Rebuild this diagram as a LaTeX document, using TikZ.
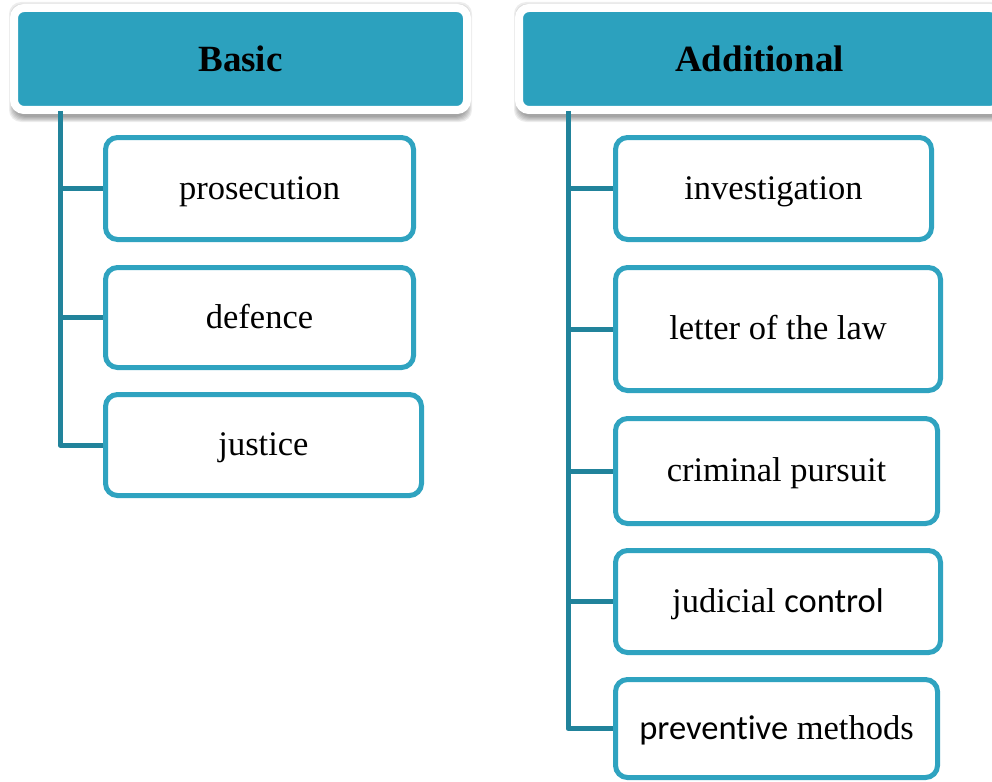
\documentclass[tikz,border=0pt]{standalone}
\usepackage{fontspec}
\setmainfont{Liberation Serif}
\newfontfamily\calib[Ligatures=NoCommon]{Carlito}

\definecolor{headfill}{RGB}{44,161,190}
\definecolor{boxline}{RGB}{47,163,192}
\definecolor{spine}{RGB}{33,131,155}

\begin{document}
\begin{tikzpicture}[x=1pt,y=-1pt,
  header/.style={fill=headfill, draw=white, line width=8pt, rounded corners=10pt,
    font=\fontsize{37}{44}\selectfont\bfseries, anchor=north west, inner sep=0pt,
    minimum height=102pt},
  item/.style={draw=boxline, line width=5pt, fill=white, rounded corners=12pt,
    font=\fontsize{34.5}{40}\selectfont, inner sep=0pt, anchor=north west,
    text height=26pt, text depth=5pt},
  link/.style={draw=spine, line width=5pt, line join=round, line cap=butt},
  softshadow/.style={fill=black, opacity=0.07, rounded corners=12pt}]

\useasboundingbox (0,0) rectangle (992,781);
\clip (0,0) rectangle (992,781);

% soft shadows beneath the two header bars
\foreach \s in {0,...,5} {
  \fill[softshadow] ({9+\s},{2+1.6*\s}) rectangle ({472-\s},{122-\s});
  \fill[softshadow] ({514+\s},{2+1.6*\s}) rectangle ({1010-\s},{122-\s});
}

% header bars
\node[header, minimum width=453pt] (basic) at (10,4) {Basic};
\node[header, minimum width=481pt] (additional) at (515,4) {Additional};

% left column
\node[item, minimum width=308pt, minimum height=102pt] (prosecution) at (103,135) {prosecution};
\node[item, minimum width=308pt, minimum height=100pt] (defence) at (103,265) {defence};
\node[item, minimum width=316pt, minimum height=101pt] (justice) at (103,392) {justice};

% right column
\node[item, minimum width=316pt, minimum height=102pt] (investigation) at (613,135) {investigation};
\node[item, minimum width=325pt, minimum height=123pt] (letter) at (613,265) {letter of the law};
\node[item, minimum width=322pt, minimum height=105pt] (pursuit) at (613,416) {criminal pursuit};
\node[item, minimum width=325pt, minimum height=102pt] (control) at (613,548) {judicial {\calib control}};
\node[item, minimum width=322pt, minimum height=98pt] (methods) at (613,677) {{\calib preventive} methods};

% tree connectors
\coordinate (lroot) at (60,111);
\coordinate (rroot) at (568,111);
\draw[link] (lroot) |- (justice.west);
\draw[link] (lroot |- prosecution.west) -- (prosecution.west);
\draw[link] (lroot |- defence.west) -- (defence.west);

\draw[link] (rroot) |- (methods.west);
\draw[link] (rroot |- investigation.west) -- (investigation.west);
\draw[link] (rroot |- letter.west) -- (letter.west);
\draw[link] (rroot |- pursuit.west) -- (pursuit.west);
\draw[link] (rroot |- control.west) -- (control.west);
\end{tikzpicture}
\end{document}
